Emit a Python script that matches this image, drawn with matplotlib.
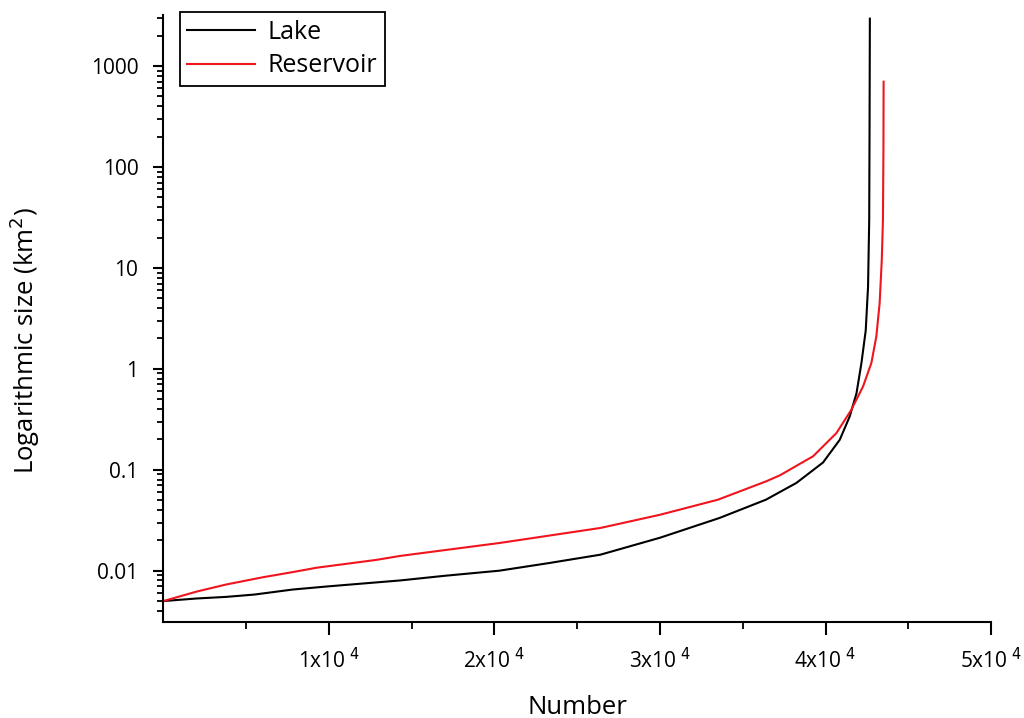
import numpy as np
import matplotlib.pyplot as plt
from matplotlib.ticker import FixedLocator, FuncFormatter, LogLocator, NullFormatter

plt.rcParams['font.family'] = ['Open Sans', 'DejaVu Sans']

# cumulative size curves
lake_n = [0, 2000, 3800, 5500, 7800, 10000, 14300, 17000, 20300, 23300,
          26400, 30000, 33600, 36400, 38240, 39850, 40860, 41460, 41870,
          42170, 42430, 42570, 42640, 42660, 42680]
lake_size = [0.0050, 0.0053, 0.0055, 0.0058, 0.0065, 0.0070, 0.0080, 0.0089,
             0.0100, 0.0119, 0.0144, 0.0212, 0.0333, 0.0505, 0.074, 0.118,
             0.198, 0.337, 0.57, 1.14, 2.4, 6.5, 30, 217, 2950]

res_n = [0, 2000, 3800, 6000, 7840, 9260, 12880, 14300, 20300, 26400, 30000,
         33500, 36400, 37240, 39250, 40660, 41560, 42270, 42770, 43070, 43270,
         43400, 43470, 43500, 43510]
res_size = [0.0050, 0.0062, 0.0073, 0.0086, 0.0097, 0.0107, 0.0128, 0.0140,
            0.0188, 0.0265, 0.0358, 0.0505, 0.0766, 0.088, 0.136, 0.231,
            0.393, 0.67, 1.14, 2.09, 4.47, 12, 30, 150, 700]

xticks = [10000, 20000, 30000, 40000, 50000]
xlabels = ["1x10$^{\\ 4}$", "2x10$^{\\ 4}$", "3x10$^{\\ 4}$", "4x10$^{\\ 4}$", "5x10$^{\\ 4}$"]
yticks = [0.01, 0.1, 1, 10, 100, 1000]
ylabels = ["0.01", "0.1", "1", "10", "100", "1000"]

fig = plt.figure(figsize=(10.24, 7.18), dpi=100)
ax = fig.add_axes([0.1596, 0.1337, 0.8082, 0.8453])

ax.plot(lake_n, lake_size, color="black", lw=1.5, label="Lake")
ax.plot(res_n, res_size, color="#f0141e", lw=1.5, label="Reservoir")

ax.set_yscale("log")
ax.set_xlim(0, 50000)
ax.set_ylim(0.0031, 3200)

ax.xaxis.set_major_locator(FixedLocator(xticks))
ax.set_xticklabels(xlabels)
ax.xaxis.set_minor_locator(FixedLocator([5000, 15000, 25000, 35000, 45000]))
ax.yaxis.set_major_locator(FixedLocator(yticks))
ax.yaxis.set_major_formatter(FuncFormatter(lambda v, p: ylabels[yticks.index(v)] if v in yticks else ""))
ax.yaxis.set_minor_locator(LogLocator(base=10, subs=np.arange(2, 10), numticks=20))
ax.yaxis.set_minor_formatter(NullFormatter())

for s in ["top", "right"]:
    ax.spines[s].set_visible(False)
for s in ["left", "bottom"]:
    ax.spines[s].set_linewidth(1.5)

ax.tick_params(axis="x", which="major", direction="out", length=9, width=1.5, pad=10, labelsize=15)
ax.tick_params(axis="x", which="minor", direction="out", length=5, width=1.3)
ax.tick_params(axis="y", which="major", direction="out", length=7, width=1.5, pad=11, labelsize=15)
ax.tick_params(axis="y", which="minor", direction="out", length=4.5, width=1.3)

ax.set_xlabel("Number", fontsize=18.5)
ax.set_ylabel("Logarithmic size (km$^{2}$)", fontsize=18.5)
ax.xaxis.set_label_coords(0.5, -0.12)
ax.yaxis.set_label_coords(-0.147, 0.463)

leg = ax.legend(loc="upper left", bbox_to_anchor=(0.02, 1.005), borderaxespad=0,
                fontsize=18, fancybox=False, edgecolor="black", framealpha=1,
                handlelength=2.7, handletextpad=0.5, borderpad=0.3,
                labelspacing=0.35)
leg.get_frame().set_linewidth(1.3)

fig.savefig("out.png", dpi=100)
